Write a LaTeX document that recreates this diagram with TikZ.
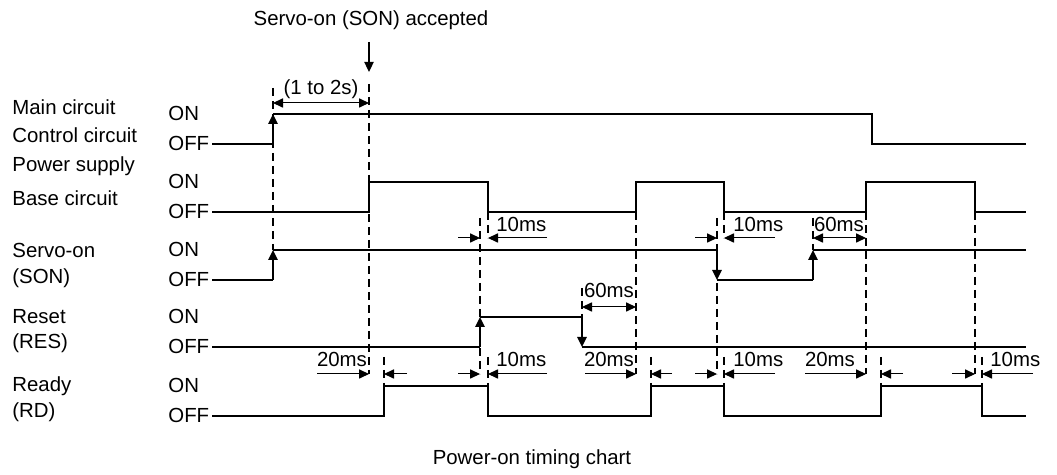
\documentclass[tikz,border=0pt]{standalone}
\usepackage{fontspec}
\setmainfont{Liberation Sans}
\usetikzlibrary{arrows.meta}
\tikzset{
  sig/.style={line width=1pt},
  trg/.style={line width=1pt,-{Triangle[length=5pt,width=4.6pt]}},
  guide/.style={line width=0.6pt,dash pattern=on 4pt off 2.5pt},
  dimr/.style={line width=0.5pt,-{Triangle[length=5pt,width=4.6pt]}},
  dimb/.style={line width=0.5pt,{Triangle[length=5pt,width=4.6pt]}-{Triangle[length=5pt,width=4.6pt]}},
  lbl/.style={font=\fontsize{10.2}{12}\selectfont,inner sep=0pt,anchor=base west},
  val/.style={font=\fontsize{10.2}{12}\selectfont,inner sep=0pt,anchor=base},
}
% two outside arrows pointing at a pair of ticks
\newcommand{\outdim}[5]{
  \draw[dimr] (#2,#1) -- (#3,#1);
  \draw[dimr] (#5,#1) -- (#4,#1);}

\begin{document}
\begin{tikzpicture}[x=0.5pt,y=-0.5pt]
\useasboundingbox (0,0) rectangle (1057,475);
% signal names
\node[lbl] (nMC) at (12,115) {Main circuit};
\node[lbl] (nCC) at (12,143) {Control circuit};
\node[lbl] (nPS) at (12,172) {Power supply};
\node[lbl] (nBC) at (12,206) {Base circuit};
\node[lbl] (nSO) at (12,258) {Servo-on};
\node[lbl] (nSO2) at (12,284) {(SON)};
\node[lbl] (nRS) at (12,324) {Reset};
\node[lbl] (nRS2) at (12,349) {(RES)};
\node[lbl] (nRD) at (12,392) {Ready};
\node[lbl] (nRD2) at (12,418) {(RD)};
% levels
\foreach \y/\n in {114/1,182/2,250/3,317/4,386/5}{
  \node[lbl] (on\n) at (168,\y+7) {ON};
  \node[lbl] (off\n) at (168,\y+37) {OFF};}
% guide lines
\foreach \x/\a/\b in {273/88/250, 369/84/374, 480/218/374, 636/212/374,
  717/218/374, 866/212/374, 975/212/374, 582/288/317, 813/218/250,
  488/212/238, 724/212/238}{
  \draw[guide] (\x,\a) -- (\x,\b);}
\foreach \x in {384,488,651,724,881,982}{
  \draw[guide] (\x,357) -- (\x,386);}
% servo-on accepted
\node[val] (acc) at (371,26) {Servo-on (SON) accepted};
\draw[dimr,line width=0.8pt] (369,42) -- (369,72);
\draw[dimb] (273,103) -- (369,103);
\node[val] (t12) at (321,95) {(1 to 2s)};
% main circuit
\draw[sig] (212,144) -- (273,144);
\draw[trg] (273,144) -- (273,114);
\draw[sig] (273,114) -- (872,114) -- (872,144) -- (1026,144);
% base circuit
\draw[sig] (212,212) -- (369,212) -- (369,182) -- (488,182) -- (488,212)
  -- (636,212) -- (636,182) -- (724,182) -- (724,212) -- (866,212)
  -- (866,182) -- (975,182) -- (975,212) -- (1026,212);
% servo-on
\draw[sig] (212,280) -- (273,280);
\draw[trg] (273,280) -- (273,250);
\draw[sig] (273,250) -- (717,250);
\draw[trg] (717,250) -- (717,280);
\draw[sig] (717,280) -- (813,280);
\draw[trg] (813,280) -- (813,250);
\draw[sig] (813,250) -- (1026,250);
% reset
\draw[sig] (212,347) -- (480,347);
\draw[trg] (480,347) -- (480,317);
\draw[sig] (480,317) -- (582,317);
\draw[trg] (582,317) -- (582,347);
\draw[sig] (582,347) -- (1026,347);
% ready
\draw[sig] (212,416) -- (384,416) -- (384,386) -- (488,386) -- (488,416)
  -- (651,416) -- (651,386) -- (724,386) -- (724,416) -- (881,416)
  -- (881,386) -- (982,386) -- (982,416) -- (1026,416);
% delays, upper row
\outdim{238}{458}{480}{488}{547}
\node[lbl] (d1) at (496,232) {10ms};
\outdim{238}{695}{717}{724}{775}
\node[lbl] (d2) at (733,232) {10ms};
\draw[dimb] (813,238) -- (866,238);
\node[val] (d3) at (839,232) {60ms};
% delay, reset
\draw[dimb] (582,307) -- (636,307);
\node[val] (d4) at (609,298) {60ms};
% delays, lower row
\outdim{374}{317}{369}{384}{407}
\node[val] (d5) at (342,367) {20ms};
\outdim{374}{458}{480}{488}{547}
\node[lbl] (d6) at (496,367) {10ms};
\outdim{374}{585}{636}{651}{672}
\node[val] (d7) at (609,367) {20ms};
\outdim{374}{695}{717}{724}{775}
\node[lbl] (d8) at (733,367) {10ms};
\outdim{374}{805}{866}{881}{903}
\node[val] (d9) at (830,367) {20ms};
\outdim{374}{952}{975}{982}{1033}
\node[lbl] (d10) at (990,367) {10ms};
% caption
\node[val] (cap) at (532,465) {Power-on timing chart};
\end{tikzpicture}
\end{document}
